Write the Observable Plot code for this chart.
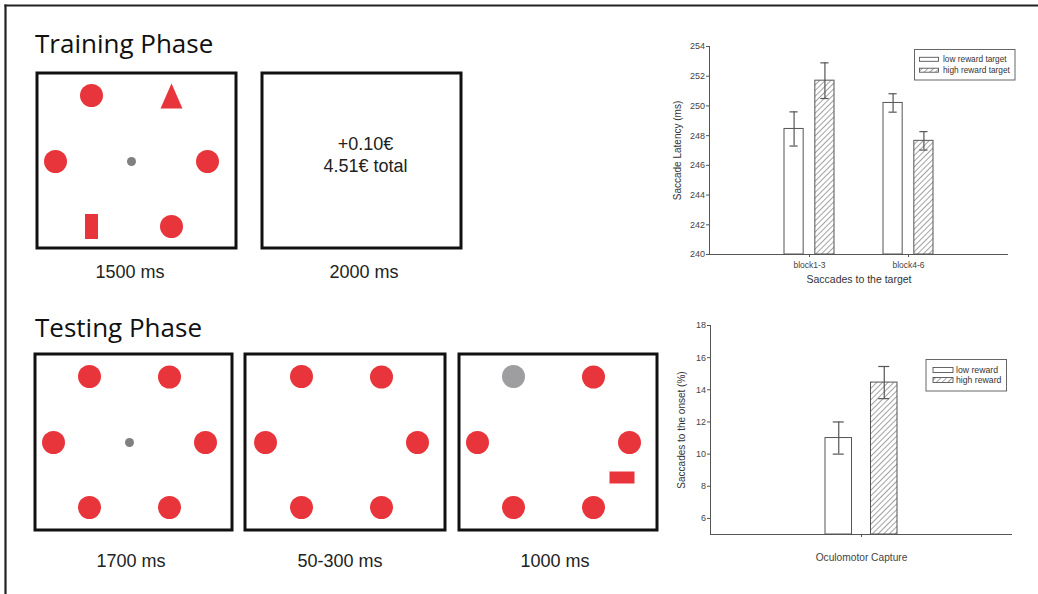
<!DOCTYPE html>
<html><head><meta charset="utf-8">
<script src="https://cdn.jsdelivr.net/npm/d3@7"></script>
<script src="https://cdn.jsdelivr.net/npm/@observablehq/plot@0.6"></script>
<style>
html,body{margin:0;padding:0;background:#fff;}
#root{position:relative;width:1038px;height:594px;overflow:hidden;background:#fff;font-family:"Liberation Sans",Arial,sans-serif;}
.abs{position:absolute;}
.abs svg{display:block;max-width:none;}
</style></head><body>
<svg width="0" height="0" style="position:absolute;left:0;top:0">
 <defs>
  <pattern id="hatch" patternUnits="userSpaceOnUse" width="4" height="4" patternTransform="rotate(45)">
   <rect width="4" height="4" fill="#fff"/>
   <line x1="0" y1="0" x2="0" y2="4" stroke="#555" stroke-width="1.1"/>
  </pattern>
 </defs>
</svg>
<div id="root"></div>
<script>
// ---------------- chart data ----------------
const latencyBlocks = ["block1-3", "block4-6"];
const latencyLow = [248.45, 250.2];
const latencyLowErr = [1.15, 0.62];
const latencyHigh = [251.7, 247.65];
const latencyHighErr = [1.2, 0.62];
const latencyDomain = [240, 254];
const latencyTicks = [240, 242, 244, 246, 248, 250, 252, 254];
const latencySeries = ["low reward target", "high reward target"];

const captureCategories = ["Oculomotor Capture"];
const captureLow = [11.0];
const captureLowErr = [1.0];
const captureHigh = [14.45];
const captureHighErr = [1.0];
const captureDomain = [5, 18];
const captureTicks = [6, 8, 10, 12, 14, 16, 18];
const captureSeries = ["low reward", "high reward"];

// ---------------- diagram content ----------------
const slotX = {TL: 56, TR: 136, L: 20, R: 172, BL: 56, BR: 136, C: 96, X: 164.5};
const slotY = {TL: 24, TR: 24.5, L: 90, R: 90, BL: 155, BR: 155, C: 90, X: 125};
const trainingSearch = [
  {slot: "TL", shape: "circle"}, {slot: "TR", shape: "triangle"},
  {slot: "L", shape: "circle"}, {slot: "C", shape: "fixation"}, {slot: "R", shape: "circle"},
  {slot: "BL", shape: "vbar"}, {slot: "BR", shape: "circle"}
];
const trainingFeedback = ["+0.10€", "4.51€ total"];
const testingFixation = [
  {slot: "TL", shape: "circle"}, {slot: "TR", shape: "circle"},
  {slot: "L", shape: "circle"}, {slot: "C", shape: "fixation"}, {slot: "R", shape: "circle"},
  {slot: "BL", shape: "circle"}, {slot: "BR", shape: "circle"}
];
const testingGap = [
  {slot: "TL", shape: "circle"}, {slot: "TR", shape: "circle"},
  {slot: "L", shape: "circle"}, {slot: "R", shape: "circle"},
  {slot: "BL", shape: "circle"}, {slot: "BR", shape: "circle"}
];
const testingOnset = [
  {slot: "TL", shape: "onset"}, {slot: "TR", shape: "circle"},
  {slot: "L", shape: "circle"}, {slot: "R", shape: "circle"}, {slot: "X", shape: "hbar"},
  {slot: "BL", shape: "circle"}, {slot: "BR", shape: "circle"}
];
const trainingDurations = ["1500 ms", "2000 ms"];
const testingDurations = ["1700 ms", "50-300 ms", "1000 ms"];

// ---------------- helpers ----------------
const root = document.getElementById("root");
function place(node, left, top) {
  const d = document.createElement("div");
  d.className = "abs";
  d.style.left = left + "px";
  d.style.top = top + "px";
  d.appendChild(node);
  root.appendChild(d);
}
const RED = "#e8343b";
const triSymbol = {draw(ctx) { ctx.moveTo(0, -12.5); ctx.lineTo(11, 12.5); ctx.lineTo(-11, 12.5); ctx.closePath(); }};
const vbarSymbol = {draw(ctx) { ctx.rect(-6.5, -12.5, 13, 25); }};
const hbarSymbol = {draw(ctx) { ctx.rect(-12.5, -6, 25, 12); }};

function panel(left, top, w, h, items, dx = 0, extra = []) {
  const f = s => items.filter(d => d.shape === s);
  const common = {x: d => slotX[d.slot], y: d => slotY[d.slot], dx, stroke: null};
  const p = Plot.plot({
    width: w, height: h, margin: 0,
    x: {domain: [0, w], axis: null},
    y: {domain: [0, h], axis: null, reverse: true},
    style: {background: "white", overflow: "visible"},
    marks: [
      Plot.dot(f("circle"), {...common, r: 11.5, fill: RED}),
      Plot.dot(f("onset"), {...common, r: 11.5, fill: "#9e9ea0"}),
      Plot.dot(f("fixation"), {...common, r: 4.5, fill: "#808083"}),
      Plot.dot(f("triangle"), {...common, symbol: triSymbol, fill: RED}),
      Plot.dot(f("vbar"), {...common, symbol: vbarSymbol, fill: RED}),
      Plot.dot(f("hbar"), {...common, symbol: hbarSymbol, fill: RED}),
      ...extra,
      Plot.frame({inset: 1.5, stroke: "#111", strokeWidth: 3})
    ]
  });
  place(p, left, top);
}

function barChart(o) {
  const rows = o.cats.map((c, i) => ({
    cat: c, base: o.domain[0], low: o.low[i], lowErr: o.lowErr[i], high: o.high[i], highErr: o.highErr[i]
  }));
  const fw = o.width - o.ml - o.mr;
  const n = o.cats.length;
  const step = fw / (n - o.pi + 2 * o.po);
  const bw = step * (1 - o.pi);
  const inset = bw - o.barW;
  const dxe = bw / 2 - o.barW / 2;
  const capInset = bw / 2 - o.capW / 2;
  const errStyle = {stroke: "#555", strokeWidth: 1.2};
  const p = Plot.plot({
    width: o.width, height: o.height,
    marginLeft: o.ml, marginRight: o.mr, marginTop: o.mt, marginBottom: o.mb,
    style: {fontFamily: "'Liberation Sans', Arial, sans-serif", color: "#444", background: "white", overflow: "visible"},
    x: {domain: o.cats, paddingInner: o.pi, paddingOuter: o.po, label: null},
    y: {domain: o.domain, label: null},
    marks: [
      Plot.barY(rows, {x: "cat", y1: "base", y2: "low", fill: "white", stroke: "#555", strokeWidth: 1, insetRight: inset}),
      Plot.barY(rows, {x: "cat", y1: "base", y2: "high", fill: "url(#hatch)", stroke: "#555", strokeWidth: 1, insetLeft: inset}),
      Plot.ruleX(rows, {x: "cat", y1: d => d.low - d.lowErr, y2: d => d.low + d.lowErr, dx: -dxe, ...errStyle}),
      Plot.tickY(rows, {x: "cat", y: d => d.low + d.lowErr, dx: -dxe, insetLeft: capInset, insetRight: capInset, ...errStyle}),
      Plot.tickY(rows, {x: "cat", y: d => d.low - d.lowErr, dx: -dxe, insetLeft: capInset, insetRight: capInset, ...errStyle}),
      Plot.ruleX(rows, {x: "cat", y1: d => d.high - d.highErr, y2: d => d.high + d.highErr, dx: dxe, ...errStyle}),
      Plot.tickY(rows, {x: "cat", y: d => d.high + d.highErr, dx: dxe, insetLeft: capInset, insetRight: capInset, ...errStyle}),
      Plot.tickY(rows, {x: "cat", y: d => d.high - d.highErr, dx: dxe, insetLeft: capInset, insetRight: capInset, ...errStyle}),
      Plot.ruleY([o.domain[0]], {stroke: "#555", strokeWidth: 1}),
      Plot.frame({anchor: "left", stroke: "#555", strokeWidth: 1}),
      Plot.axisY({ticks: o.ticks, tickSize: 3, tickPadding: 1.5, fontSize: 9, label: null, stroke: "#555"}),
      Plot.axisX({tickSize: 3, tickPadding: o.catPad, fontSize: o.catFont, label: null, stroke: "#555"}),
      ...(o.xTitle ? [Plot.text([o.xTitle], {frameAnchor: "bottom", dy: o.xTitleDy, fontSize: 10.5, fill: "#333"})] : []),
      Plot.text([o.yTitle], {frameAnchor: "left", textAnchor: "middle", rotate: -90, dx: o.yTitleDx, fontSize: 10, fill: "#333"})
    ]
  });
  place(p, o.left, o.top);
}

// ---------------- diagram panels ----------------
panel(35, 71, 202, 178, trainingSearch);
panel(260, 71, 202, 178, [], 0, [
  Plot.text(trainingFeedback, {x: 105, y: (d, i) => 73 + i * 21.5, text: d => d, fontSize: 18, fill: "#222",
    fontFamily: "'Liberation Sans', Arial, sans-serif", lineAnchor: "middle"})
]);
panel(33, 352, 200, 179, testingFixation);
panel(243, 352, 203, 179, testingGap, 2);
panel(457, 352, 201, 179, testingOnset);

// ---------------- bar charts ----------------
barChart({
  cats: latencyBlocks, low: latencyLow, lowErr: latencyLowErr, high: latencyHigh, highErr: latencyHighErr,
  domain: latencyDomain, ticks: latencyTicks, left: 660, top: 30, width: 370, height: 270,
  ml: 49, mr: 22, mt: 16, mb: 46, pi: 0.5, po: 0.75, barW: 19, capW: 8,
  catFont: 8.5, catPad: 4, xTitle: "Saccades to the target", xTitleDy: 28.5,
  yTitle: "Saccade Latency (ms)", yTitleDx: -32
});
barChart({
  cats: captureCategories, low: captureLow, lowErr: captureLowErr, high: captureHigh, highErr: captureHighErr,
  domain: captureDomain, ticks: captureTicks, left: 660, top: 310, width: 370, height: 260,
  ml: 50, mr: 18, mt: 15, mb: 36, pi: 0, po: 1.5685, barW: 27.5, capW: 12,
  catFont: 10.2, catPad: 16.5, xTitle: null, xTitleDy: 0,
  yTitle: "Saccades to the onset (%)", yTitleDx: -28.3
});

// ---------------- overlay: frame lines, titles, labels, legends ----------------
const NS = "http://www.w3.org/2000/svg";
const ov = document.createElementNS(NS, "svg");
ov.setAttribute("width", 1038); ov.setAttribute("height", 594);
function el(tag, attrs, text) {
  const e = document.createElementNS(NS, tag);
  for (const k in attrs) e.setAttribute(k, attrs[k]);
  if (text != null) e.textContent = text;
  ov.appendChild(e);
  return e;
}
el("line", {x1: 5.5, y1: 4.5, x2: 5.5, y2: 594, stroke: "#222", "stroke-width": 2.2});
el("line", {x1: 4.4, y1: 5.5, x2: 1038, y2: 5.5, stroke: "#222", "stroke-width": 2.2});
el("text", {x: 35, y: 53, "font-family": "'Open Sans', sans-serif", "font-size": 26, fill: "#111"}, "Training Phase");
el("text", {x: 35, y: 336.7, "font-family": "'Open Sans', sans-serif", "font-size": 26, fill: "#111"}, "Testing Phase");
const msFont = {"font-family": "'Liberation Sans', Arial, sans-serif", "font-size": 18, fill: "#222", "text-anchor": "middle"};
[130, 364].forEach((x, i) => el("text", {x, y: 278.3, ...msFont}, trainingDurations[i]));
[131, 340, 555].forEach((x, i) => el("text", {x, y: 566.5, ...msFont}, testingDurations[i]));

function legend(bx, by, bw, bh, sx, sw, sh, rowsY, tx, fs, labels) {
  el("rect", {x: bx, y: by, width: bw, height: bh, fill: "white", stroke: "#666", "stroke-width": 1});
  labels.forEach((lab, i) => {
    el("rect", {x: sx, y: rowsY[i] - sh / 2, width: sw, height: sh, fill: i === 0 ? "white" : "url(#hatch)", stroke: "#555", "stroke-width": 0.9});
    el("text", {x: tx, y: rowsY[i] + fs * 0.36, "font-family": "'Liberation Sans', Arial, sans-serif", "font-size": fs, fill: "#333"}, lab);
  });
}
legend(914.5, 49.5, 100.5, 30.5, 919.5, 19, 4, [59.3, 70.2], 943, 8.3, latencySeries);
legend(926, 359.5, 80.5, 31.5, 933, 20, 5, [370, 380], 956, 8.7, captureSeries);

const ovWrap = document.createElement("div");
ovWrap.className = "abs";
ovWrap.style.left = "0px"; ovWrap.style.top = "0px"; ovWrap.style.pointerEvents = "none";
ovWrap.appendChild(ov);
root.appendChild(ovWrap);
</script>
</body></html>
